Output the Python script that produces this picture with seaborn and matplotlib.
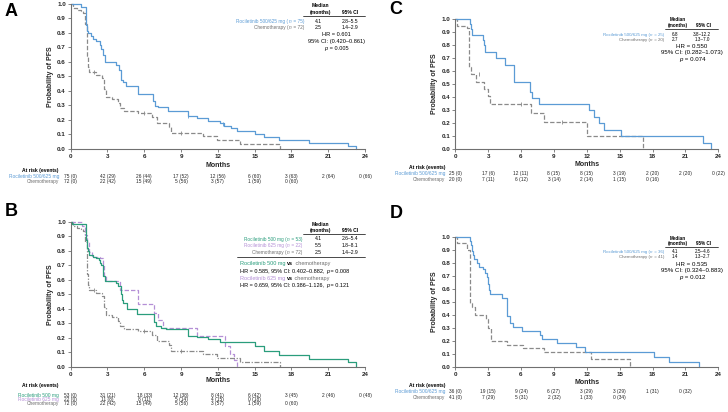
import numpy as np
import pandas as pd
import matplotlib
matplotlib.use('Agg')
import matplotlib.pyplot as plt
import matplotlib.transforms as mtransforms
from matplotlib.lines import Line2D
import seaborn as sns

# ---- KM step data (months, probability of PFS) ----
A_roc_t = [0, 0.84, 1.22, 1.27, 1.32, 1.4, 1.66, 1.85, 2.1, 2.4, 2.5, 2.65, 2.8, 3.67, 3.9, 4.1, 4.3, 4.55,
           5.46, 6.74, 6.9, 7.15, 7.96, 9.6, 10.3, 11.2, 12.2, 12.5, 13.1, 13.6, 15.0, 15.8, 17.0, 19.4, 22.6, 23.3]
A_roc_s = [1.0, 0.98, 0.89, 0.855, 0.81, 0.80, 0.78, 0.755, 0.745, 0.72, 0.69, 0.65, 0.60, 0.575, 0.545, 0.475,
           0.46, 0.43, 0.375, 0.33, 0.295, 0.285, 0.26, 0.225, 0.21, 0.19, 0.18, 0.16, 0.14, 0.12, 0.10, 0.08,
           0.06, 0.04, 0.02, 0.0]
A_chemo_t = [0, 0.15, 0.5, 0.8, 1.03, 1.17, 1.3, 1.4, 1.5, 2.1, 2.58, 2.74, 2.85, 3.34, 3.83, 4.0, 4.37, 5.5,
             6.66, 7.0, 8.0, 8.18, 10.8, 11.9, 13.8, 17.1]
A_chemo_s = [1.0, 0.97, 0.96, 0.95, 0.935, 0.86, 0.64, 0.565, 0.53, 0.51, 0.49, 0.41, 0.36, 0.345, 0.315, 0.28,
             0.26, 0.245, 0.22, 0.175, 0.15, 0.11, 0.085, 0.06, 0.03, 0.0]
A_roc_cens = ([9.6, 12.4], [0.225, 0.17])
A_chemo_cens = ([1.9, 6.0, 9.0], [0.53, 0.245, 0.11])

B_r500_t = [0, 0.1, 1.22, 1.3, 1.4, 1.5, 1.85, 2.1, 2.3, 2.4, 2.5, 2.66, 2.8, 3.67, 3.83, 4.1, 4.15, 4.3, 4.56,
            5.43, 6.8, 6.93, 7.4, 7.8, 9.6, 10.3, 11.2, 12.2, 15.0, 15.8, 17.0, 19.4, 22.6, 23.3]
B_r500_s = [1.0, 0.985, 0.875, 0.82, 0.80, 0.775, 0.76, 0.75, 0.74, 0.715, 0.70, 0.63, 0.59, 0.575, 0.56, 0.50,
            0.46, 0.44, 0.40, 0.365, 0.31, 0.28, 0.265, 0.26, 0.215, 0.207, 0.19, 0.17, 0.14, 0.11, 0.08, 0.053,
            0.03, 0.0]
B_r625_t = [0, 0.9, 1.2, 1.3, 1.5, 1.7, 2.4, 2.6, 2.74, 2.85, 4.0, 5.46, 6.8, 7.15, 7.5, 10.27, 12.6, 13.0,
            13.3, 13.6]
B_r625_s = [1.0, 0.97, 0.91, 0.86, 0.795, 0.76, 0.75, 0.70, 0.63, 0.59, 0.53, 0.43, 0.37, 0.32, 0.265, 0.215,
            0.145, 0.09, 0.045, 0.0]
B_chemo_t = A_chemo_t
B_chemo_s = A_chemo_s

C_roc_t = [0, 1.34, 1.4, 1.5, 2.55, 2.65, 2.75, 3.7, 4.5, 5.4, 6.8, 7.0, 7.6, 12.2, 12.7, 13.1, 13.6, 15.1,
           22.6, 23.3]
C_roc_s = [1.0, 0.96, 0.92, 0.88, 0.84, 0.80, 0.75, 0.70, 0.65, 0.52, 0.44, 0.39, 0.35, 0.30, 0.25, 0.20,
           0.15, 0.10, 0.05, 0.0]
C_chemo_t = [0, 0.2, 1.03, 1.25, 1.4, 1.9, 2.65, 3.0, 3.2, 6.9, 8.1, 12.0, 17.1]
C_chemo_s = [1.0, 0.95, 0.93, 0.63, 0.58, 0.52, 0.46, 0.41, 0.345, 0.28, 0.21, 0.105, 0.0]
C_chemo_cens = ([2.2, 6.0, 9.7], [0.58, 0.345, 0.21])

D_roc_t = [0, 1.34, 1.4, 1.5, 1.6, 1.75, 2.0, 2.2, 2.55, 2.7, 2.85, 2.95, 3.05, 3.15, 4.3, 4.7, 4.75, 4.95,
           5.3, 6.05, 7.7, 7.9, 9.25, 11.0, 11.8, 18.1, 19.5, 22.2]
D_roc_s = [1.0, 0.97, 0.94, 0.89, 0.86, 0.83, 0.80, 0.77, 0.75, 0.72, 0.69, 0.64, 0.59, 0.56, 0.53, 0.47,
           0.39, 0.34, 0.31, 0.28, 0.25, 0.215, 0.185, 0.155, 0.115, 0.077, 0.04, 0.0]
D_chemo_t = [0, 0.15, 1.03, 1.34, 1.5, 1.8, 2.8, 3.0, 3.25, 4.7, 6.2, 8.1, 12.4, 15.9]
D_chemo_s = [1.0, 0.95, 0.90, 0.49, 0.46, 0.40, 0.37, 0.30, 0.20, 0.17, 0.145, 0.115, 0.06, 0.0]

# ---- at-risk tables ----
months = [0, 3, 6, 9, 12, 15, 18, 21, 24]
A_risk_roc = ['75 (0)', '42 (29)', '26 (44)', '17 (52)', '12 (56)', '6 (60)', '3 (63)', '2 (64)', '0 (66)']
A_risk_chemo = ['72 (0)', '22 (42)', '15 (49)', '5 (56)', '3 (57)', '1 (59)', '0 (60)']
B_risk_500 = ['53 (0)', '31 (21)', '18 (33)', '12 (38)', '8 (41)', '6 (42)', '3 (45)', '2 (46)', '0 (48)']
B_risk_625 = ['22 (0)', '11 (8)', '8 (11)', '5 (14)', '4 (15)', '0 (18)']
B_risk_chemo = A_risk_chemo
C_risk_roc = ['25 (0)', '17 (6)', '12 (11)', '8 (15)', '8 (15)', '3 (19)', '2 (20)', '2 (20)', '0 (22)']
C_risk_chemo = ['20 (0)', '7 (11)', '6 (12)', '3 (14)', '2 (14)', '1 (15)', '0 (16)']
D_risk_roc = ['36 (0)', '19 (15)', '9 (24)', '6 (27)', '3 (29)', '3 (29)', '1 (31)', '0 (32)']
D_risk_chemo = ['41 (0)', '7 (29)', '5 (31)', '2 (32)', '1 (33)', '0 (34)']

BLUE = '#5b9bd5'
GREEN = '#2a9d7c'
PURPLE = '#b48fd6'
GRAY = '#8a8a8a'
GRAYTXT = '#6e6e6e'

sns.set_theme(style='ticks')
plt.rcParams['font.family'] = ['Liberation Sans', 'DejaVu Sans']

W, H = 728, 412
fig = plt.figure(figsize=(7.28, 4.12), dpi=100)
fig.patch.set_facecolor('white')
renderer = fig.canvas.get_renderer()


def fx(x):
    return x / W


def fy(y):
    return 1 - y / H


def txt(x, y, s, size=3.6, color='black', ha='center', weight='normal'):
    fig.text(fx(x), fy(y), s, fontsize=size, color=color, ha=ha, va='center', fontweight=weight)


def rich(x, y, parts, size=3.6, ha='left', gap=0.3):
    # parts: (text, color, weight, style); laid out left to right on one baseline
    widths = []
    for s, color, weight, style in parts:
        t = fig.text(0, 0, s, fontsize=size, fontweight=weight, fontstyle=style)
        widths.append(t.get_window_extent(renderer).width)
        t.remove()
    total = sum(widths) + gap * (len(parts) - 1)
    x0 = {'left': x, 'center': x - total / 2, 'right': x - total}[ha]
    base = y + 0.5 * size
    for (s, color, weight, style), w in zip(parts, widths):
        fig.text(fx(x0), fy(base), s, fontsize=size, color=color, fontweight=weight, fontstyle=style,
                 ha='left', va='baseline')
        x0 += w + gap


def arm_label(x, y, name, n, color, size=3.4):
    rich(x, y, [(name + ' (', color, 'normal', 'normal'), ('n', color, 'normal', 'italic'),
                (' = %d)' % n, color, 'normal', 'normal')], size=size, ha='right')


def pval(x, y, p, size):
    rich(x, y, [('p', 'black', 'normal', 'italic'), (' = ' + p, 'black', 'normal', 'normal')],
         size=size, ha='center', gap=0.6)


def hline(x0, x1, y, lw=0.5):
    fig.add_artist(Line2D([fx(x0), fx(x1)], [fy(y), fy(y)], transform=fig.transFigure, lw=lw, color='black'))


def make_ax(left, right, top, bottom, ylab_x):
    ax = fig.add_axes([fx(left), fy(bottom), fx(right) - fx(left), fy(top) - fy(bottom)])
    ax.set_facecolor('none')
    fig.text(fx(ylab_x), fy((top + bottom) / 2), 'Probability of PFS', rotation=90, fontsize=5,
             fontweight='bold', ha='center', va='center')
    return ax


def style_ax(ax):
    ax.set_xlim(0, 24)
    ax.set_ylim(0, 1.0)
    ax.set_xticks(months)
    yt = np.round(np.arange(0, 1.01, 0.1), 1)
    ax.set_yticks(yt)
    ax.set_yticklabels([f'{v:.1f}' for v in yt])
    sns.despine(ax=ax)
    for sp in ['left', 'bottom']:
        ax.spines[sp].set_color('#707070')
        ax.spines[sp].set_linewidth(0.8)
    ax.tick_params(length=2.5, width=0.6, color='#707070', labelsize=4.5, pad=1)
    for lab in ax.get_xticklabels() + ax.get_yticklabels():
        lab.set_fontweight('bold')
    ax.set_xlabel('')
    ax.set_ylabel('')


def km(ax, t, s, color, ls, lw=0.9):
    df = pd.DataFrame({'t': t, 's': s})
    sns.lineplot(data=df, x='t', y='s', ax=ax, drawstyle='steps-post', estimator=None, sort=False,
                 color=color, linestyle=ls, lw=lw, clip_on=False)


def cens(ax, pts, color):
    sns.scatterplot(x=pts[0], y=pts[1], ax=ax, marker='|', s=8, color=color, linewidth=0.6, legend=False)


def risk_rows(ax, months_y, label_x, header_y, rows):
    tr = mtransforms.blended_transform_factory(ax.transData, fig.transFigure)
    ax.text(12, fy(months_y), 'Months', transform=tr, fontsize=5, fontweight='bold',
            ha='center', va='center', clip_on=False)
    txt(label_x, header_y, 'At risk (events)', size=3.6, ha='right', weight='bold')
    for label, color, y, vals in rows:
        txt(label_x, y, label, size=3.5, ha='right', color=color)
        for m, v in zip(months, vals):
            ax.text(m, fy(y), v, transform=tr, fontsize=3.5, ha='center', va='center', clip_on=False)


dash = (0, (3.5, 1.6))
dashdot = (0, (4, 1.3, 1, 1.3))

# ---------- Panel A ----------
axA = make_ax(70.7, 365, 4, 148.7, 50)
km(axA, A_chemo_t, A_chemo_s, GRAY, dash)
km(axA, A_roc_t, A_roc_s, BLUE, '-')
cens(axA, A_chemo_cens, GRAY)
cens(axA, A_roc_cens, BLUE)
style_ax(axA)
risk_rows(axA, 165.3, 59, 170.7, [('Rociletinib 500/625 mg', BLUE, 176.7, A_risk_roc),
                                   ('Chemotherapy', GRAYTXT, 182, A_risk_chemo)])
txt(11, 11, 'A', size=13, weight='bold')
txt(320, 5.7, 'Median', weight='bold')
txt(320, 12.3, '(months)', weight='bold')
txt(350, 12.3, '95% CI', weight='bold')
hline(303, 365, 16.3)
arm_label(304, 21.7, 'Rociletinib 500/625 mg', 75, BLUE)
arm_label(304, 27.5, 'Chemotherapy', 72, GRAYTXT)
txt(318, 21.7, '4.1')
txt(318, 27.5, '2.5')
txt(350, 21.7, '2.8–5.5')
txt(350, 27.5, '1.4–2.9')
txt(336, 34.3, 'HR = 0.601', size=4.1)
txt(336, 41, '95% CI: (0.420–0.861)', size=4.1)
pval(336, 47.7, '0.005', 4.1)

# ---------- Panel B ----------
axB = make_ax(70.7, 365, 222, 366.7, 50)
km(axB, B_chemo_t, B_chemo_s, GRAY, dashdot)
km(axB, B_r625_t, B_r625_s, PURPLE, dash)
km(axB, B_r500_t, B_r500_s, GREEN, '-')
cens(axB, A_chemo_cens, GRAY)
style_ax(axB)
risk_rows(axB, 381, 59, 385.7, [('Rociletinib 500 mg', GREEN, 395, B_risk_500),
                                 ('Rociletinib 625 mg', PURPLE, 399.5, B_risk_625),
                                 ('Chemotherapy', GRAYTXT, 404, B_risk_chemo)])
txt(11, 212, 'B', size=13, weight='bold')
txt(320, 224, 'Median', weight='bold')
txt(320, 230.7, '(months)', weight='bold')
txt(350, 230.7, '95% CI', weight='bold')
hline(303, 365, 234.3)
arm_label(302, 239, 'Rociletinib 500 mg', 53, GREEN)
arm_label(302, 245.7, 'Rociletinib 625 mg', 22, PURPLE)
arm_label(302, 252.3, 'Chemotherapy', 72, GRAYTXT)
for y, med, ci in [(239, '4.1', '2.6–5.4'), (245.7, '5.5', '1.8–8.1'), (252.3, '2.5', '1.4–2.9')]:
    txt(318, y, med)
    txt(350, y, ci)
hline(236.7, 365, 256.7)
rich(240, 263.3, [('Rociletinib 500 mg ', GREEN, 'normal', 'normal'), ('vs', 'black', 'bold', 'normal'),
                  (' chemotherapy', GRAYTXT, 'normal', 'normal')], size=4.0)
rich(240, 270.6, [('HR = 0.585, 95% CI: 0.402–0.882, ', 'black', 'normal', 'normal'),
                  ('p', 'black', 'normal', 'italic'), (' = 0.008', 'black', 'normal', 'normal')], size=4.0)
rich(240, 278, [('Rociletinib 625 mg ', PURPLE, 'normal', 'normal'), ('vs', 'black', 'bold', 'normal'),
                (' chemotherapy', GRAYTXT, 'normal', 'normal')], size=4.0)
rich(240, 284.6, [('HR = 0.659, 95% CI: 0.386–1.126, ', 'black', 'normal', 'normal'),
                  ('p', 'black', 'normal', 'italic'), (' = 0.121', 'black', 'normal', 'normal')], size=4.0)

# ---------- Panel C ----------
axC = make_ax(455.3, 718.3, 19, 149.3, 435)
km(axC, C_chemo_t, C_chemo_s, GRAY, dash)
km(axC, C_roc_t, C_roc_s, BLUE, '-')
cens(axC, C_chemo_cens, GRAY)
style_ax(axC)
risk_rows(axC, 164, 445, 167.7, [('Rociletinib 500/625 mg', BLUE, 173.7, C_risk_roc),
                                  ('Chemotherapy', GRAYTXT, 179.3, C_risk_chemo)])
txt(396, 9, 'C', size=13, weight='bold')
txt(677.5, 19.5, 'Median', size=3.3, weight='bold')
txt(677.5, 25.8, '(months)', size=3.3, weight='bold')
txt(703, 25.8, '95% CI', size=3.3, weight='bold')
hline(665, 718, 29.3)
arm_label(664, 34, 'Rociletinib 500/625 mg', 25, BLUE, size=3.2)
arm_label(664, 39.3, 'Chemotherapy', 20, GRAYTXT, size=3.2)
txt(675, 34, '6.8', size=3.3)
txt(675, 39.3, '2.7', size=3.3)
txt(702.3, 34, '3.8–12.2', size=3.3)
txt(702.3, 39.3, '1.3–7.0', size=3.3)
txt(692, 46.7, 'HR = 0.550', size=4.4)
txt(692, 52.5, '95% CI: (0.282–1.073)', size=4.4)
pval(692, 58.5, '0.074', 4.4)

# ---------- Panel D ----------
axD = make_ax(455.3, 718.3, 236.7, 367.3, 435)
km(axD, D_chemo_t, D_chemo_s, GRAY, dash)
km(axD, D_roc_t, D_roc_s, BLUE, '-')
style_ax(axD)
risk_rows(axD, 382, 445, 385.3, [('Rociletinib 500/625 mg', BLUE, 391.7, D_risk_roc),
                                  ('Chemotherapy', GRAYTXT, 397.3, D_risk_chemo)])
txt(396, 214, 'D', size=13, weight='bold')
txt(677.5, 238, 'Median', size=3.3, weight='bold')
txt(677.5, 243.3, '(months)', size=3.3, weight='bold')
txt(703, 243.3, '95% CI', size=3.3, weight='bold')
hline(665, 718, 247)
arm_label(664, 251.3, 'Rociletinib 500/625 mg', 36, BLUE, size=3.2)
arm_label(664, 256.5, 'Chemotherapy', 41, GRAYTXT, size=3.2)
txt(675, 251.3, '4.1', size=3.3)
txt(675, 256.5, '1.4', size=3.3)
txt(702.3, 251.3, '2.5–4.6', size=3.3)
txt(702.3, 256.5, '1.3–2.7', size=3.3)
txt(692, 264.3, 'HR = 0.535', size=4.4)
txt(692, 270.3, '95% CI: (0.324–0.883)', size=4.4)
pval(692, 276.5, '0.012', 4.4)

fig.savefig('out.png', dpi=100, facecolor='white')
